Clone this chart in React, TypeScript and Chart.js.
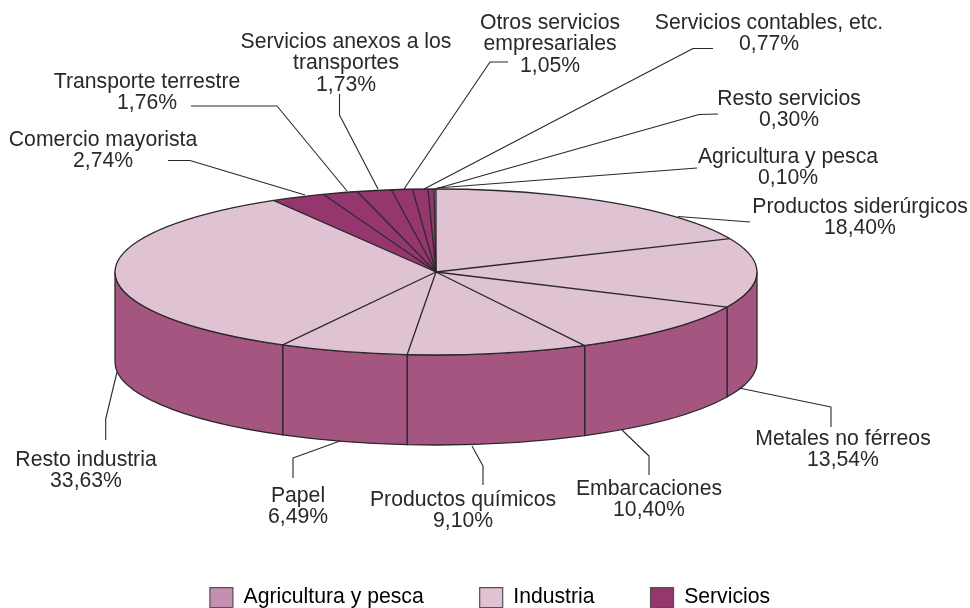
import React, { useEffect, useRef } from "react";
import { Chart, registerables } from "chart.js";

Chart.register(...registerables);

const sliceNames = [
  ["Productos siderúrgicos"],
  ["Metales no férreos"],
  ["Embarcaciones"],
  ["Productos químicos"],
  ["Papel"],
  ["Resto industria"],
  ["Comercio mayorista"],
  ["Transporte terrestre"],
  ["Servicios anexos a los", "transportes"],
  ["Otros servicios", "empresariales"],
  ["Servicios contables, etc."],
  ["Resto servicios"],
  ["Agricultura y pesca"],
];
const sliceValues = [18.4, 13.54, 10.4, 9.1, 6.49, 33.63, 2.74, 1.76, 1.73, 1.05, 0.77, 0.3, 0.1];
const sliceGroups = [1, 1, 1, 1, 1, 1, 2, 2, 2, 2, 2, 2, 0];
const legendNames = ["Agricultura y pesca", "Industria", "Servicios"];
const legendColors = ["#C58FB2", "#E0C3D3", "#96366F"];

const WALL = "#A55680";
const INK = "#2B282A";
const FONT = "Liberation Sans";
const FONT_SIZE = 21.2;
const CX = 436;
const CY = 272;
const RX = 321;
const RY = 83;
const DEPTH = 90;
const LEGEND_PAD = 56;

// Layout of the callouts, in the same order as the slices: text centre, first line centre, leader polyline.
const calloutLayout = [
  { x: 860, y: 207, line: [[750, 222], [678, 216.5]] },
  { x: 843, y: 439, line: [[831, 427], [831, 407], [739, 388]] },
  { x: 649, y: 489, line: [[649, 475], [649, 456], [622, 430]] },
  { x: 463, y: 500, line: [[483, 485], [483, 466], [472, 446]] },
  { x: 298, y: 496, line: [[293, 478], [293, 458], [340, 441]] },
  { x: 86, y: 460, line: [[105.7, 440], [105.7, 419], [117, 372]] },
  { x: 103, y: 140, line: [[168, 160.5], [190, 160.5], [305, 195]] },
  { x: 147, y: 82, line: [[191, 106], [277, 106], [347, 191]] },
  { x: 346, y: 42, line: [[339.5, 94], [339.5, 115], [378, 189]] },
  { x: 550, y: 23, line: [[508, 62], [490, 62], [404, 189]] },
  { x: 769, y: 23, line: [[713, 48.5], [693, 48.5], [424, 189]] },
  { x: 789, y: 99, line: [[718, 114], [699, 114.5], [435, 189]] },
  { x: 788, y: 157, line: [[697, 168], [437, 188]] },
];

const formatValue = (v: number) => v.toFixed(2).replace(".", ",") + "%";

const pie3d = {
  id: "pie3d",
  afterLayout(chart: any) {
    chart.legend.top = 587 - LEGEND_PAD;
  },
  beforeDatasetsDraw(chart: any) {
    const ctx = chart.ctx;
    const arcs = chart.getDatasetMeta(0).data;
    // side wall, from the angles the library computed
    ctx.save();
    ctx.strokeStyle = INK;
    ctx.lineWidth = 1.3;
    ctx.lineJoin = "round";
    arcs.forEach((arc: any) => {
      const a = Math.max(arc.startAngle, 0);
      const b = Math.min(arc.endAngle, Math.PI);
      if (b <= a) return;
      ctx.beginPath();
      ctx.ellipse(CX, CY, RX, RY, 0, a, b);
      ctx.ellipse(CX, CY + DEPTH, RX, RY, 0, b, a, true);
      ctx.closePath();
      ctx.fillStyle = WALL;
      ctx.fill();
      ctx.stroke();
    });
    ctx.restore();
    // top face: the library's arcs, squeezed into an ellipse
    const first = arcs[0];
    ctx.save();
    ctx.translate(CX, CY);
    ctx.scale(RX / first.outerRadius, RY / first.outerRadius);
    ctx.translate(-first.x, -first.y);
  },
  afterDatasetsDraw(chart: any) {
    const ctx = chart.ctx;
    ctx.restore();
    const arcs = chart.getDatasetMeta(0).data;
    ctx.save();
    ctx.strokeStyle = INK;
    ctx.lineWidth = 1.3;
    ctx.lineJoin = "round";
    arcs.forEach((arc: any) => {
      ctx.beginPath();
      ctx.moveTo(CX, CY);
      ctx.lineTo(CX + RX * Math.cos(arc.startAngle), CY + RY * Math.sin(arc.startAngle));
      ctx.stroke();
    });
    ctx.beginPath();
    ctx.ellipse(CX, CY, RX, RY, 0, 0, Math.PI * 2);
    ctx.stroke();
    // callouts
    ctx.lineWidth = 1.1;
    calloutLayout.forEach((c) => {
      ctx.beginPath();
      c.line.forEach((p, i) => (i ? ctx.lineTo(p[0], p[1]) : ctx.moveTo(p[0], p[1])));
      ctx.stroke();
    });
    ctx.fillStyle = INK;
    ctx.font = `${FONT_SIZE}px "${FONT}"`;
    ctx.textAlign = "center";
    ctx.textBaseline = "middle";
    calloutLayout.forEach((c, i) => {
      const lines = [...sliceNames[i], formatValue(sliceValues[i])];
      lines.forEach((t, k) => ctx.fillText(t, c.x, c.y + k * 21.6));
    });
    ctx.restore();
  },
};

export default function App() {
  const ref = useRef<HTMLCanvasElement | null>(null);
  useEffect(() => {
    const chart = new Chart(ref.current as HTMLCanvasElement, {
      type: "pie",
      data: {
        labels: sliceNames.map((n) => n.join(" ")),
        datasets: [
          {
            data: sliceValues,
            backgroundColor: sliceGroups.map((g) => legendColors[g]),
            borderWidth: 0,
            clip: false,
          } as any,
        ],
      },
      options: {
        animation: false,
        responsive: false,
        layout: { padding: { left: 10 } },
        plugins: {
          tooltip: { enabled: false },
          title: { display: false },
          legend: {
            position: "bottom",
            labels: {
              boxWidth: 23,
              boxHeight: 20,
              padding: LEGEND_PAD,
              color: INK,
              font: { family: FONT, size: FONT_SIZE },
              generateLabels: () =>
                legendNames.map((text, i) => ({
                  text,
                  fillStyle: legendColors[i],
                  strokeStyle: "#555055",
                  lineWidth: 1.2,
                  hidden: false,
                  index: i,
                })),
            },
          },
        },
      } as any,
      plugins: [pie3d],
    });
    return () => chart.destroy();
  }, []);
  return (
    <div style={{ position: "absolute", left: 0, top: 0, width: 970, height: 608, background: "#fff" }}>
      <canvas ref={ref} width={970} height={608} style={{ display: "block" }} />
    </div>
  );
}
